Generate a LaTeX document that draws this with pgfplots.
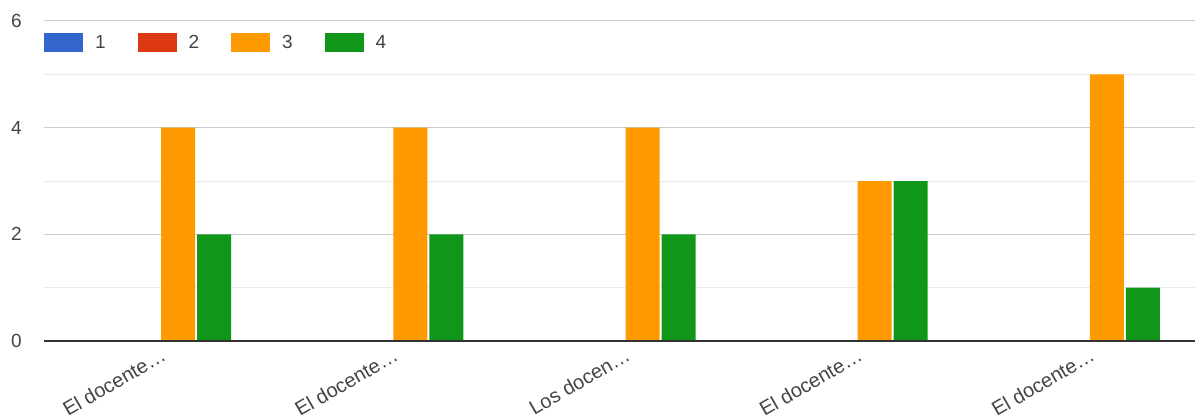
\documentclass[border=0pt]{standalone}
\usepackage{fontspec}
\setmainfont{Liberation Sans}
\usepackage{pgfplots}
\pgfplotsset{compat=1.18}

\definecolor{gblue}{HTML}{3366CC}
\definecolor{gred}{HTML}{DC3912}
\definecolor{gorange}{HTML}{FF9900}
\definecolor{ggreen}{HTML}{109618}
\definecolor{txt}{HTML}{444444}
\definecolor{majgrid}{HTML}{CCCCCC}
\definecolor{mingrid}{HTML}{EBEBEB}
\definecolor{base}{HTML}{333333}

\pgfplotsset{
  swatch/.style={legend image code/.code={\fill (0pt,-9.5pt) rectangle (39pt,9.5pt);}}
}

\begin{document}
\begin{tikzpicture}
\begin{axis}[
  name=ax,
  scale only axis,
  width=1161pt, height=320pt,
  xmin=-0.5, xmax=4.5, ymin=0, ymax=6,
  ybar=2pt, bar width=34pt,
  xtick={0,1,2,3,4},
  xticklabels={El docente…, El docente…, Los docen…, El docente…, El docente…},
  ytick={0,2,4,6}, minor ytick={1,3,5},
  ymajorgrids, yminorgrids,
  major grid style={majgrid, line width=1pt},
  minor grid style={mingrid, line width=1pt},
  axis line style={draw=none},
  major tick length=0pt, minor tick length=0pt,
  tick style={draw=none},
  font=\fontsize{19}{22}\selectfont,
  every tick label/.append style={text=txt},
  yticklabel style={anchor=east, inner sep=0pt, xshift=-22pt},
  xticklabel style={font=\fontsize{20}{24}\selectfont, rotate=30, anchor=north east,
    inner sep=0pt, xshift=-3pt, yshift=-5pt},
  /pgf/number format/assume math mode=true,
  legend columns=4,
  legend style={at={(0,0.9625)}, anchor=north west, draw=none, fill=none,
    inner sep=0pt, outer sep=0pt,
    nodes={inner sep=0pt, text=txt},
    /tikz/every odd column/.append style={column sep=12pt},
    /tikz/every even column/.append style={column sep=32pt}},
]
\addplot[fill=gblue, draw=none, swatch] coordinates {(0,0) (1,0) (2,0) (3,0) (4,0)};
\addplot[fill=gred, draw=none, swatch] coordinates {(0,0) (1,0) (2,0) (3,0) (4,0)};
\addplot[fill=gorange, draw=none, swatch] coordinates {(0,4) (1,4) (2,4) (3,3) (4,5)};
\addplot[fill=ggreen, draw=none, swatch] coordinates {(0,2) (1,2) (2,2) (3,3) (4,1)};
\legend{1,2,3,4}
\draw[base, line width=1.5pt] (rel axis cs:0,0) -- (rel axis cs:1,0);
\end{axis}
\pgfresetboundingbox
\useasboundingbox ([shift={(-44pt,-78pt)}]ax.south west) rectangle ([shift={(-10pt,21pt)}]ax.north east);
\end{tikzpicture}
\end{document}
